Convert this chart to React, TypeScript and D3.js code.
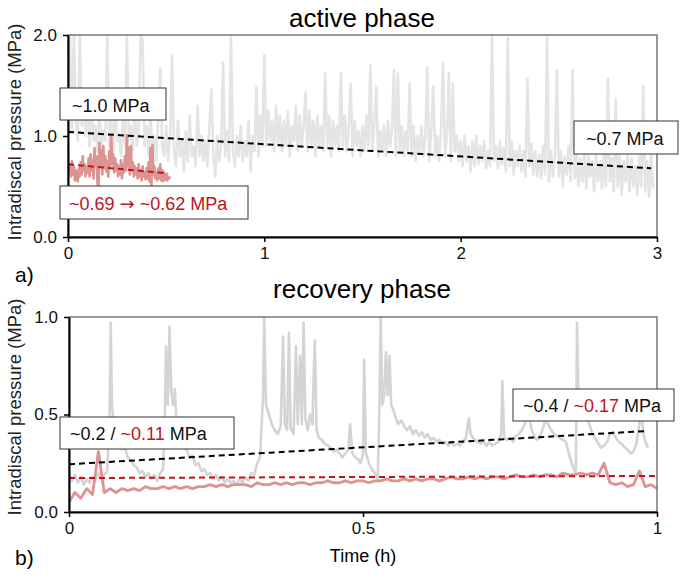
import * as d3 from "d3";
import React, { useRef, useEffect } from "react";

// active phase, sampled every 0.01 h (MPa)
const activeDt = 0.01;
const activeGray = [
  1.25, 2.0, 1.05, 2.0, 1.15, 0.95, 2.0, 1.1, 1.3, 1.0,
  1.2, 0.9, 1.35, 0.95, 1.1, 0.85, 1.25, 0.9, 1.05, 0.95,
  2.0, 0.9, 1.15, 0.85, 1.3, 0.95, 1.0, 0.8, 1.2, 0.9,
  2.0, 0.95, 1.1, 0.85, 1.4, 0.9, 1.05, 2.0, 1.95, 0.9,
  1.1, 0.8, 1.25, 0.85, 1.0, 0.75, 1.2, 1.67, 0.9, 0.8,
  1.1, 0.75, 1.0, 1.8, 0.85, 0.7, 1.15, 0.8, 0.95, 0.65,
  1.05, 0.75, 1.2, 0.8, 0.9, 0.7, 1.3, 0.8, 1.0, 0.75,
  0.95, 0.7, 1.1, 1.46, 0.8, 0.6, 1.0, 0.75, 0.9, 1.73,
  0.8, 1.05, 0.75, 2.0, 0.85, 0.7, 1.0, 0.8, 1.1, 0.75,
  0.95, 0.8, 1.15, 0.65, 1.0, 0.85, 1.49, 0.8, 1.2, 0.9,
  1.8, 0.9, 1.25, 0.95, 1.15, 0.85, 1.3, 0.9, 1.2, 0.85,
  1.15, 0.9, 1.25, 0.8, 1.1, 0.95, 1.3, 0.85, 1.2, 0.9,
  1.1, 1.43, 0.85, 1.25, 0.9, 1.15, 0.8, 1.2, 0.9, 1.1,
  0.85, 1.62, 0.9, 1.2, 0.8, 1.15, 0.9, 1.1, 0.85, 1.62,
  0.9, 1.2, 0.85, 1.1, 1.52, 0.8, 1.15, 0.9, 1.05, 0.8,
  1.1, 0.85, 1.2, 0.9, 1.7, 0.85, 1.1, 1.48, 0.8, 1.05,
  0.85, 1.1, 0.8, 1.15, 0.9, 1.05, 1.65, 0.8, 1.62, 0.85,
  1.1, 0.8, 1.05, 0.85, 1.52, 0.8, 1.1, 0.75, 1.0, 0.85,
  1.1, 0.8, 1.0, 1.68, 0.75, 1.05, 1.49, 0.8, 1.0, 0.75,
  1.05, 1.72, 0.8, 1.0, 1.62, 0.75, 1.52, 0.85, 1.0, 0.75,
  0.95, 0.7, 1.0, 0.75, 0.9, 0.65, 0.95, 0.7, 1.0, 0.72,
  0.9, 0.75, 0.95, 0.68, 0.85, 0.7, 2.0, 0.75, 0.9, 0.68,
  0.95, 0.72, 0.88, 0.65, 1.97, 0.7, 0.95, 0.62, 0.85, 0.7,
  0.9, 0.65, 0.85, 0.6, 1.57, 0.7, 0.92, 0.62, 0.85, 0.6,
  0.82, 0.58, 0.9, 0.62, 1.98, 0.55, 0.85, 0.6, 0.8, 1.65,
  0.6, 0.85, 0.5, 0.8, 0.62, 0.9, 0.55, 1.65, 0.58, 0.82,
  0.5, 0.78, 0.55, 0.85, 0.48, 0.8, 0.6, 0.75, 0.45, 0.82,
  0.55, 0.75, 0.48, 0.85, 0.5, 1.57, 0.55, 0.78, 0.45, 1.36,
  0.5, 0.8, 0.42, 0.75, 0.55, 0.82, 0.45, 0.78, 0.5, 0.7,
  0.42, 0.8, 0.5, 1.49, 0.45, 0.75, 0.4, 0.82, 0.48,
];

// active phase, other sensor, every 0.005 h
const activeRedDt = 0.005;
const activeRed = [
  0.78, 0.65, 0.72, 0.6, 0.75, 0.62, 0.7, 0.56, 0.66, 0.58,
  0.55, 0.68, 0.6, 0.74, 0.62, 0.8, 0.66, 0.72, 0.6, 0.7,
  0.64, 0.78, 0.6, 0.82, 0.66, 0.76, 0.58, 0.88, 0.7, 0.8,
  0.55, 0.44, 0.93, 0.72, 0.86, 0.62, 0.9, 0.68, 0.8, 0.65,
  0.75, 0.6, 0.85, 0.7, 1.01, 0.72, 0.82, 0.64, 0.78, 0.66,
  0.72, 0.6, 0.7, 0.62, 0.76, 0.58, 0.72, 0.64, 0.8, 0.66,
  1.01, 0.7, 0.88, 0.62, 0.9, 0.66, 0.74, 0.6, 0.7, 0.62,
  0.68, 0.58, 0.72, 0.6, 0.66, 0.56, 0.7, 0.6, 0.64, 0.57,
  0.68, 0.58, 0.74, 0.55, 0.88, 0.5, 0.91, 0.62, 0.7, 0.58,
  0.64, 0.56, 0.68, 0.58, 0.72, 0.56, 0.66, 0.55, 0.64, 0.57,
  0.62, 0.56, 0.6, 0.58, 0.6,
];

// recovery phase [time h, MPa]
const recoveryGray: [number, number][] = [
  [0, 0.2], [0.005, 0.16], [0.01, 0.19], [0.015, 0.15], [0.02, 0.18], [0.025, 0.14],
  [0.03, 0.17], [0.035, 0.15], [0.04, 0.18], [0.045, 0.16], [0.05, 0.2], [0.055, 0.17],
  [0.06, 0.19], [0.065, 0.21], [0.069, 0.5], [0.071, 0.97], [0.073, 0.55], [0.076, 0.45],
  [0.08, 0.38], [0.085, 0.4], [0.09, 0.32], [0.095, 0.33], [0.1, 0.28], [0.105, 0.27],
  [0.11, 0.24], [0.115, 0.23], [0.12, 0.2], [0.125, 0.21], [0.13, 0.18], [0.135, 0.2],
  [0.14, 0.17], [0.145, 0.19], [0.15, 0.16], [0.155, 0.2], [0.16, 0.22], [0.163, 0.5],
  [0.165, 0.85], [0.168, 0.55], [0.171, 0.95], [0.174, 0.62], [0.177, 0.55], [0.18, 0.63],
  [0.183, 0.45], [0.187, 0.38], [0.19, 0.4], [0.195, 0.33], [0.2, 0.32], [0.205, 0.28],
  [0.21, 0.29], [0.215, 0.24], [0.22, 0.25], [0.225, 0.21], [0.23, 0.22], [0.235, 0.19],
  [0.24, 0.2], [0.245, 0.17], [0.25, 0.19], [0.255, 0.16], [0.26, 0.18], [0.265, 0.15],
  [0.27, 0.17], [0.275, 0.15], [0.28, 0.16], [0.285, 0.14], [0.29, 0.17], [0.295, 0.15],
  [0.3, 0.18], [0.305, 0.16], [0.31, 0.2], [0.315, 0.19], [0.32, 0.25], [0.325, 0.28],
  [0.33, 0.6], [0.332, 1.0], [0.335, 0.55], [0.34, 0.5], [0.345, 0.45], [0.35, 0.42],
  [0.355, 0.4], [0.36, 0.44], [0.364, 0.9], [0.367, 0.45], [0.371, 0.42], [0.374, 0.92],
  [0.377, 0.43], [0.382, 0.4], [0.386, 0.85], [0.389, 0.45], [0.393, 0.8], [0.396, 0.45],
  [0.399, 0.97], [0.402, 0.48], [0.406, 0.42], [0.41, 0.5], [0.414, 0.45], [0.418, 0.88],
  [0.421, 0.42], [0.425, 0.38], [0.43, 0.37], [0.435, 0.35], [0.44, 0.34], [0.445, 0.33],
  [0.45, 0.31], [0.455, 0.32], [0.46, 0.3], [0.465, 0.28], [0.47, 0.3], [0.475, 0.32],
  [0.478, 0.45], [0.482, 0.3], [0.487, 0.28], [0.492, 0.27], [0.496, 0.25], [0.5, 0.3],
  [0.502, 0.78], [0.505, 0.3], [0.51, 0.25], [0.515, 0.22], [0.52, 0.2], [0.525, 0.17],
  [0.528, 0.55], [0.53, 1.0], [0.533, 0.55], [0.536, 0.6], [0.539, 0.82], [0.542, 0.6],
  [0.545, 0.8], [0.548, 0.55], [0.552, 0.52], [0.556, 0.48], [0.56, 0.45], [0.565, 0.47],
  [0.57, 0.44], [0.575, 0.42], [0.58, 0.44], [0.585, 0.4], [0.59, 0.42], [0.595, 0.39],
  [0.6, 0.41], [0.605, 0.38], [0.61, 0.4], [0.615, 0.37], [0.62, 0.38], [0.625, 0.36],
  [0.63, 0.37], [0.635, 0.35], [0.64, 0.36], [0.645, 0.34], [0.65, 0.36], [0.655, 0.34],
  [0.66, 0.35], [0.665, 0.34], [0.67, 0.36], [0.675, 0.38], [0.68, 0.48], [0.683, 0.4],
  [0.687, 0.38], [0.69, 0.37], [0.695, 0.36], [0.7, 0.35], [0.705, 0.36], [0.71, 0.34],
  [0.715, 0.36], [0.72, 0.34], [0.725, 0.35], [0.73, 0.36], [0.735, 0.4], [0.737, 0.67],
  [0.74, 0.38], [0.745, 0.37], [0.75, 0.38], [0.755, 0.36], [0.76, 0.39], [0.765, 0.4],
  [0.77, 0.42], [0.775, 0.45], [0.78, 0.5], [0.783, 0.48], [0.787, 0.42], [0.79, 0.4],
  [0.795, 0.37], [0.8, 0.38], [0.805, 0.42], [0.81, 0.47], [0.815, 0.45], [0.82, 0.42],
  [0.825, 0.4], [0.83, 0.39], [0.835, 0.38], [0.84, 0.37], [0.845, 0.36], [0.85, 0.3],
  [0.855, 0.25], [0.86, 0.21], [0.862, 0.2], [0.864, 0.97], [0.867, 0.5], [0.87, 0.48],
  [0.874, 0.55], [0.878, 0.6], [0.882, 0.48], [0.886, 0.44], [0.89, 0.4], [0.895, 0.38],
  [0.9, 0.35], [0.905, 0.33], [0.91, 0.34], [0.915, 0.36], [0.92, 0.4], [0.925, 0.41],
  [0.93, 0.38], [0.935, 0.36], [0.94, 0.35], [0.945, 0.33], [0.95, 0.32], [0.955, 0.3],
  [0.96, 0.31], [0.965, 0.35], [0.97, 0.45], [0.973, 0.58], [0.976, 0.42], [0.98, 0.36],
  [0.985, 0.33],
];

// recovery phase, other sensor, every 0.01 h
const recoveryRedDt = 0.01;
const recoveryRed = [
  0.05, 0.1, 0.07, 0.12, 0.09, 0.31, 0.1, 0.12, 0.1, 0.12,
  0.11, 0.12, 0.11, 0.13, 0.12, 0.12, 0.13, 0.12, 0.13, 0.12,
  0.13, 0.12, 0.13, 0.13, 0.14, 0.13, 0.14, 0.13, 0.14, 0.14,
  0.14, 0.13, 0.15, 0.14, 0.14, 0.15, 0.14, 0.15, 0.14, 0.15,
  0.15, 0.14, 0.15, 0.15, 0.16, 0.15, 0.15, 0.16, 0.15, 0.16,
  0.16, 0.15, 0.16, 0.16, 0.17, 0.16, 0.16, 0.17, 0.16, 0.17,
  0.16, 0.17, 0.17, 0.16, 0.17, 0.18, 0.17, 0.17, 0.18, 0.17,
  0.18, 0.17, 0.18, 0.18, 0.17, 0.18, 0.19, 0.18, 0.18, 0.19,
  0.18, 0.19, 0.19, 0.18, 0.2, 0.19, 0.19, 0.2, 0.19, 0.2,
  0.19, 0.25, 0.15, 0.14, 0.15, 0.13, 0.14, 0.21, 0.13, 0.14,
  0.12,
];

// linear trends [time h, MPa]
const activeTrend: [number, number][] = [[0, 1.04], [2.97, 0.68]];
const activeRedTrend: [number, number][] = [[0, 0.72], [0.51, 0.63]];
const recoveryTrend: [number, number][] = [[0, 0.245], [0.98, 0.415]];
const recoveryRedTrend: [number, number][] = [[0, 0.174], [1, 0.185]];

const activeXTicks = [0, 1, 2, 3];
const activeYTicks = [0, 1, 2];
const recoveryXTicks = [0, 0.5, 1];
const recoveryYTicks = [0, 0.5, 1];

const RED = "#c0141c";
const FONT = "'Liberation Sans', Arial, sans-serif";

const App = () => {
  const svgRef = useRef(null);

  useEffect(() => {
    if (!svgRef.current) return;
    const svg = d3.select(svgRef.current);
    svg.selectAll("*").remove();

    const drawPanel = (cfg: any) => {
      const x = d3.scaleLinear().domain(cfg.xDomain).range(cfg.xRange);
      const y = d3.scaleLinear().domain(cfg.yDomain).range(cfg.yRange);
      const g = svg.append("g");

      g.append("clipPath")
        .attr("id", cfg.id)
        .append("rect")
        .attr("x", cfg.xRange[0])
        .attr("y", cfg.yRange[1])
        .attr("width", cfg.xRange[1] - cfg.xRange[0])
        .attr("height", cfg.yRange[0] - cfg.yRange[1]);

      const line = d3
        .line<[number, number]>()
        .x((d) => x(d[0]))
        .y((d) => y(d[1]));

      const plot = g.append("g").attr("clip-path", `url(#${cfg.id})`);
      plot
        .append("path")
        .attr("d", line(cfg.gray))
        .attr("fill", "none")
        .attr("stroke", cfg.grayColor)
        .attr("stroke-width", cfg.grayWidth)
        .attr("stroke-linejoin", "round");
      plot
        .append("path")
        .attr("d", line(cfg.red))
        .attr("fill", "none")
        .attr("stroke", "#dc9391")
        .attr("stroke-width", cfg.redWidth)
        .attr("stroke-linejoin", "round");
      plot
        .append("path")
        .attr("d", line(cfg.trend))
        .attr("fill", "none")
        .attr("stroke", "#000")
        .attr("stroke-width", 2)
        .attr("stroke-dasharray", "6,4");
      plot
        .append("path")
        .attr("d", line(cfg.redTrend))
        .attr("fill", "none")
        .attr("stroke", RED)
        .attr("stroke-width", 2)
        .attr("stroke-dasharray", "6,4");

      // frame
      g.append("rect")
        .attr("x", cfg.xRange[0])
        .attr("y", cfg.yRange[1])
        .attr("width", cfg.xRange[1] - cfg.xRange[0])
        .attr("height", cfg.yRange[0] - cfg.yRange[1])
        .attr("fill", "none")
        .attr("stroke", "#555")
        .attr("stroke-width", 1.2);

      const xAxis = g
        .append("g")
        .attr("transform", `translate(0,${cfg.yRange[0]})`)
        .call(
          d3
            .axisBottom(x)
            .tickValues(cfg.xTicks)
            .tickSize(5)
            .tickSizeOuter(0)
            .tickPadding(5)
            .tickFormat((d: any) => String(d))
        );
      const yAxis = g
        .append("g")
        .attr("transform", `translate(${cfg.xRange[0]},0)`)
        .call(
          d3
            .axisLeft(y)
            .tickValues(cfg.yTicks)
            .tickSize(5)
            .tickSizeOuter(0)
            .tickPadding(6)
            .tickFormat(d3.format(".1f"))
        );
      [xAxis, yAxis].forEach((ax) => {
        ax.select(".domain").attr("stroke", "#000").attr("stroke-width", 2);
        ax.selectAll(".tick line").attr("stroke", "#000").attr("stroke-width", 1.5);
        ax.selectAll("text")
          .attr("font-family", FONT)
          .attr("font-size", 17)
          .attr("fill", "#111");
      });

      g.append("text")
        .attr("x", 362)
        .attr("y", cfg.titleY)
        .attr("text-anchor", "middle")
        .attr("font-family", FONT)
        .attr("font-size", 26)
        .text(cfg.title);

      g.append("text")
        .attr("transform", `translate(21,${cfg.labelY}) rotate(-90)`)
        .attr("text-anchor", "middle")
        .attr("font-family", FONT)
        .attr("font-size", 18.5)
        .attr("fill", "#222")
        .text("Intradiscal pressure (MPa)");

      g.append("text")
        .attr("x", 15)
        .attr("y", cfg.letterY)
        .attr("font-family", FONT)
        .attr("font-size", 21)
        .text(cfg.letter);

      cfg.boxes.forEach((b: any) => {
        g.append("rect")
          .attr("x", b.x)
          .attr("y", b.y)
          .attr("width", b.w)
          .attr("height", b.h)
          .attr("fill", "#fff")
          .attr("stroke", "#333")
          .attr("stroke-width", 1);
        const t = g
          .append("text")
          .attr("x", b.tx)
          .attr("y", b.ty)
          .attr("font-family", FONT)
          .attr("font-size", 18);
        b.parts.forEach((p: any) => {
          const span = t.append("tspan").attr("fill", p.color).text(p.text);
          if (p.font) span.attr("font-family", p.font);
        });
      });
    };

    drawPanel({
      id: "clipA",
      xDomain: [0, 3],
      yDomain: [0, 2],
      xRange: [68, 657],
      yRange: [237, 35],
      xTicks: activeXTicks,
      yTicks: activeYTicks,
      gray: activeGray.map((v, i) => [i * activeDt, v]),
      grayColor: "#e4e4e4",
      grayWidth: 2.6,
      red: activeRed.map((v, i) => [i * activeRedDt, v]),
      redWidth: 2.6,
      trend: activeTrend,
      redTrend: activeRedTrend,
      title: "active phase",
      titleY: 27,
      labelY: 132,
      letter: "a)",
      letterY: 282,
      boxes: [
        { x: 60, y: 88, w: 106, h: 32, tx: 72, ty: 112, parts: [{ text: "~1.0 MPa", color: "#111" }] },
        {
          x: 60, y: 186, w: 188, h: 33, tx: 69, ty: 210,
          parts: [
            { text: "~0.69 ", color: RED },
            { text: "→", color: RED, font: "'DejaVu Sans', sans-serif" },
            { text: " ~0.62 MPa", color: RED },
          ],
        },
        { x: 574, y: 121, w: 104, h: 33, tx: 586, ty: 145, parts: [{ text: "~0.7 MPa", color: "#111" }] },
      ],
    });

    drawPanel({
      id: "clipB",
      xDomain: [0, 1],
      yDomain: [0, 1],
      xRange: [69, 657],
      yRange: [512, 317],
      xTicks: recoveryXTicks,
      yTicks: recoveryYTicks,
      gray: recoveryGray,
      grayColor: "#d4d4d4",
      grayWidth: 2.6,
      red: recoveryRed.map((v, i) => [i * recoveryRedDt, v]),
      redWidth: 2.8,
      trend: recoveryTrend,
      redTrend: recoveryRedTrend,
      title: "recovery phase",
      titleY: 298,
      labelY: 407,
      letter: "b)",
      letterY: 565,
      boxes: [
        {
          x: 60, y: 417, w: 174, h: 32, tx: 70, ty: 440,
          parts: [
            { text: "~0.2 / ", color: "#111" },
            { text: "~0.11", color: RED },
            { text: " MPa", color: "#111" },
          ],
        },
        {
          x: 513, y: 389, w: 161, h: 32, tx: 523, ty: 412,
          parts: [
            { text: "~0.4 / ", color: "#111" },
            { text: "~0.17", color: RED },
            { text: " MPa", color: "#111" },
          ],
        },
      ],
    });

    svg
      .append("text")
      .attr("x", 363)
      .attr("y", 562)
      .attr("text-anchor", "middle")
      .attr("font-family", FONT)
      .attr("font-size", 18)
      .text("Time (h)");
  }, []);

  return (
    <svg
      ref={svgRef}
      width={683}
      height={578}
      style={{ position: "absolute", left: 0, top: 0, background: "#fff" }}
    />
  );
};

export default App;
